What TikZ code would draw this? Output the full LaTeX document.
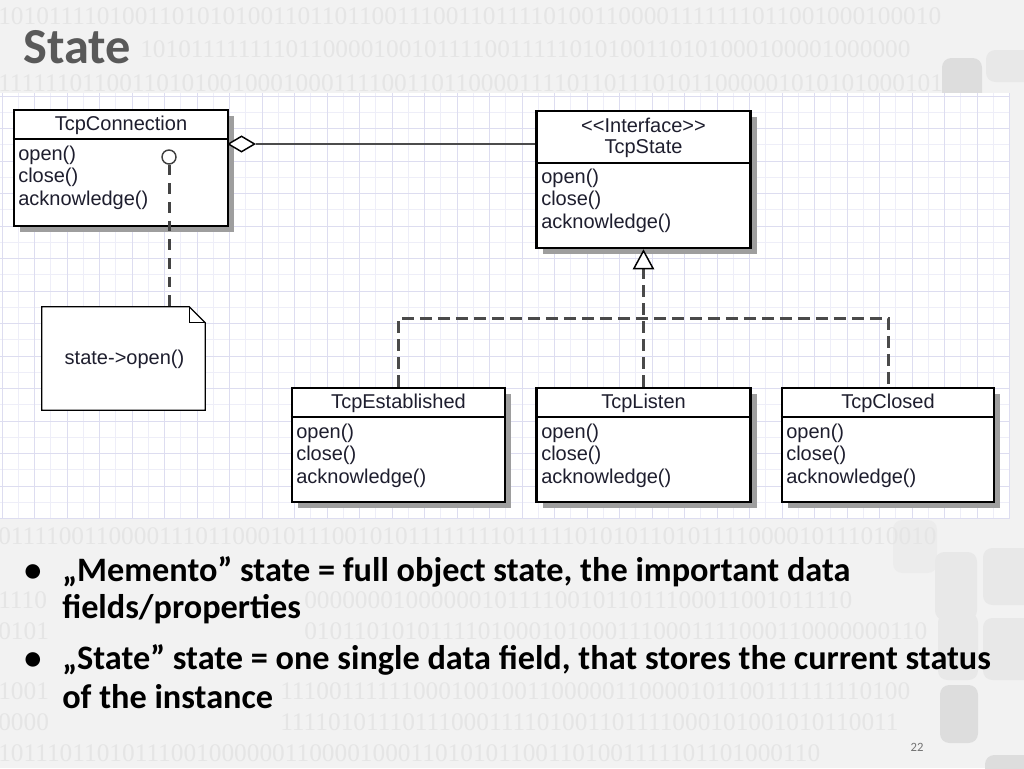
\documentclass[tikz,border=0pt]{standalone}
\usepackage{fontspec}
\setmainfont{Carlito}
\newfontfamily\umlfont{Liberation Sans}
\newfontfamily\binfont{Liberation Serif}
\usetikzlibrary{shapes.geometric,fit,shadows,arrows.meta}
\definecolor{slidebg}{HTML}{F2F2F2}
\definecolor{bindigit}{HTML}{E5E5E5}
\definecolor{titlegray}{HTML}{595959}
\definecolor{gminor}{HTML}{EEEEF8}
\definecolor{gmajor}{HTML}{DDDDF0}
\definecolor{umltext}{HTML}{1E1E2E}
\definecolor{dashgray}{HTML}{4A4A4A}
\definecolor{deco1}{HTML}{E8E8E8}
\definecolor{deco2}{HTML}{DDDDDD}
\newcommand\umlmethods[3]{%
  \node[mtxt] (#1-open) at (#2,#3) {open()};
  \node[mtxt] (#1-close) at (#2,{#3+22.5}) {close()};
  \node[mtxt] (#1-ack) at (#2,{#3+45}) {acknowledge()};
}
\begin{document}
\begin{tikzpicture}[x=0.75pt,y=-0.75pt,
  bin/.style={anchor=west,inner sep=0,text=bindigit,font=\binfont\fontsize{19}{19}\selectfont},
  deco/.style={rounded corners=7pt},
  cls/.style={draw=black,line width=1.9pt,fill=white,inner sep=0,
    general shadow={fill=black!38,shadow xshift=4.5pt,shadow yshift=-4.5pt}},
  divline/.style={draw=black,line width=1.9pt},
  mtxt/.style={anchor=west,inner sep=0,text=umltext,font=\umlfont\fontsize{15}{18}\selectfont},
  htxt/.style={inner sep=0,text=umltext,font=\umlfont\fontsize{15}{18}\selectfont},
  gen/.style={draw=dashgray,line width=2.25pt,dash pattern=on 9pt off 4.5pt},
  lollidash/.style={draw=dashgray!90!black,line width=2.25pt,dash pattern=on 8pt off 6pt},
  noteline/.style={draw=black,line width=1pt},
  bullet/.style={anchor=base west,inner sep=0,text=black,align=left},
  bulletfont/.style={font=\bfseries\fontsize{25.7}{#1}\selectfont}]
\useasboundingbox (0,0) rectangle (1024,768);
\fill[slidebg] (0,0) rectangle (1024,768);
% decorative rounded shapes at right
\fill[deco2,deco] (942,58) rectangle (982,110);
\fill[deco1,deco] (986,50) rectangle (1040,82);
\fill[deco1!60!slidebg,deco] (893,520) rectangle (937,573);
\fill[deco1,deco] (935,552) rectangle (977,620);
\fill[deco1,deco] (983,548) rectangle (1040,605);
\fill[deco1,deco] (938,613) rectangle (978,680);
\fill[deco1,deco] (983,618) rectangle (1040,680);
\fill[deco2,deco] (940,685) rectangle (978,743);
\fill[deco2,deco] (985,755) rectangle (1040,790);
% binary digit rows
\begin{scope}
\clip (0,0) rectangle (955,768);
\node[bin] (b1) at (-2,16) {1010111101001101010100110110110011100110111101001100001111111011001000100010};
\node[bin] (b2) at (140,49) {10101111111101100001001011110011111010100110101000100001000000};
\node[bin] (b3) at (-2,83) {1111110110011010100100010001111001101100001111011011101011000001010101000101};
\node[bin] (b4) at (-2,536) {0111100110000111011000101110010101111111101111101010110101111000010111010010};
\node[bin] (b6a) at (-2,600) {1110};
\node[bin] (b6b) at (304,600) {00000001000000101111001011011100011001011110};
\node[bin] (b7a) at (-2,631) {0101};
\node[bin] (b7b) at (304,631) {01011010101111010001010001110001111000110000000110};
\node[bin] (b9a) at (-2,691) {1001};
\node[bin] (b9b) at (280,691) {111001111110001001001100000110000101100111111110100};
\node[bin] (b10a) at (-2,722) {0000};
\node[bin] (b10b) at (280,722) {11110101110111000111101001101111000101001010110011};
\node[bin] (b11) at (-2,753) {101110110101110010000001100001000110101011001101001111101101000110};
\end{scope}
% title
\node[anchor=base west,inner sep=0,text height=25pt,text depth=0pt,text=titlegray,font=\bfseries\fontsize{37.8}{37.8}\selectfont] (title) at (23,63) {State};
% diagram grid area
\fill[white] (0,93) rectangle (1010,519);
\foreach \k in {0,...,62} {\draw[gminor,line width=0.6pt] ({2+\k*16.25},93) -- ({2+\k*16.25},519);}
\foreach \k in {0,...,26} {\draw[gminor,line width=0.6pt] (0,{96+\k*16.25}) -- (1010,{96+\k*16.25});}
\foreach \k in {0,2,...,62} {\draw[gmajor,line width=0.7pt] ({2+\k*16.25},93) -- ({2+\k*16.25},519);}
\foreach \k in {0,2,...,26} {\draw[gmajor,line width=0.7pt] (0,{96+\k*16.25}) -- (1010,{96+\k*16.25});}
% classes
\node[cls,fit={(14,110) (228,226)}] (conn) {};
\draw[divline] (conn.west |- 0,139) -- (conn.east |- 0,139);
\node[htxt] (conn-title) at (121,125) {TcpConnection};
\umlmethods{conn}{18}{155}

\node[cls,fit={(536.5,111) (750.5,248)}] (state) {};
\draw[divline] (state.west |- 0,163) -- (state.east |- 0,163);
\node[htxt] (state-stereo) at (643.5,125) {<<Interface>>};
\node[htxt] (state-title) at (643.5,148.5) {TcpState};
\umlmethods{state}{541}{178}

\node[cls,fit={(292,388) (505,502)}] (est) {};
\draw[divline] (est.west |- 0,417) -- (est.east |- 0,417);
\node[htxt] (est-title) at (398.5,403) {TcpEstablished};
\umlmethods{est}{296}{433}

\node[cls,fit={(536.5,388) (750.5,502)}] (listen) {};
\draw[divline] (listen.west |- 0,417) -- (listen.east |- 0,417);
\node[htxt] (listen-title) at (643.5,403) {TcpListen};
\umlmethods{listen}{541}{433}

\node[cls,fit={(782,388) (994,502)}] (closed) {};
\draw[divline] (closed.west |- 0,417) -- (closed.east |- 0,417);
\node[htxt] (closed-title) at (888,403) {TcpClosed};
\umlmethods{closed}{786}{433}

% aggregation
\node[diamond,draw=black,line width=1.1pt,fill=white,inner sep=0,minimum width=20pt,minimum height=12pt] (diam) at (241.5,144) {};
\draw[draw=black!70,line width=1.1pt] (diam.east) -- (state.west |- diam.east);

% generalization
\coordinate (bar) at (643.5,318);
\draw[gen,-{Triangle[open,length=15pt,width=16pt,line width=1.1pt,color=black,fill=white]}] (listen.north) -- (state.south);
\draw[gen] (est.north) -- (est.north |- bar) -| (closed.north);

% lollipop and note
\node[circle,draw=black!75,line width=1.1pt,fill=white,inner sep=0,minimum size=10.5pt] (lolli) at (169,157) {};
\node[inner sep=0,fit={(42,307) (205,410)}] (note) {};
\draw[lollidash] (lolli.south) -- (lolli |- note.north);
\draw[noteline,fill=white] (note.north west) -- ([xshift=-12pt]note.north east) -- ([yshift=-12pt]note.north east) -- (note.south east) -- (note.south west) -- cycle;
\draw[noteline] ([xshift=-12pt]note.north east) -- ([xshift=-12pt,yshift=-12pt]note.north east) -- ([yshift=-12pt]note.north east);
\node[htxt] (note-text) at (124.5,359) {state->open()};

% bullets
\node[bullet,bulletfont=27.75] (d1) at (24,581) {•};
\node[bullet,bulletfont=27.75] (l1) at (62,618) {„Memento” state = full object state, the important data\\fields/properties};
\node[bullet,bulletfont=29.25] (d2) at (24,669) {•};
\node[bullet,bulletfont=29.25] (l3) at (62,708) {„State” state = one single data field, that stores the current status\\of the instance};
% page number
\node[anchor=base,inner sep=0,text=black!55,font=\fontsize{9.5}{9.5}\selectfont] (page) at (917,751) {22};
\end{tikzpicture}
\end{document}
